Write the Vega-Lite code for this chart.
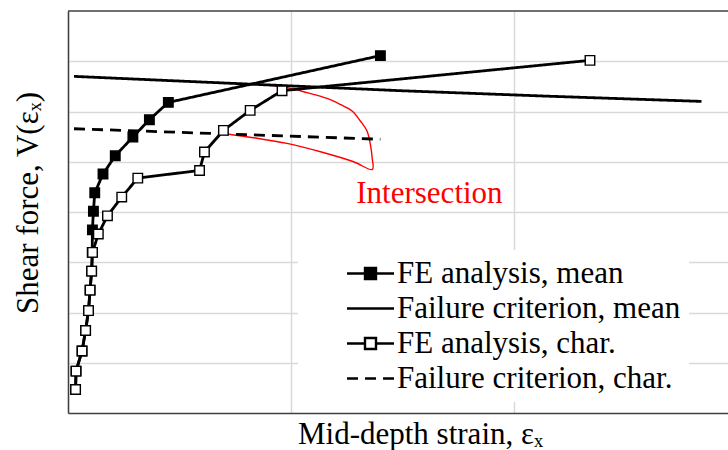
{
  "$schema": "https://vega.github.io/schema/vega-lite/v6.json",
  "width": 660,
  "height": 402,
  "autosize": {"type": "none"},
  "padding": {"left": 68, "top": 11, "right": 0, "bottom": 37},
  "background": "white",
  "config": {
    "font": "Liberation Serif",
    "view": {"stroke": null},
    "axis": {
      "labels": false,
      "ticks": false,
      "domainColor": "#404040",
      "domainWidth": 1.5,
      "gridColor": "#d9d9d9",
      "gridWidth": 1.5,
      "titleFont": "Liberation Serif",
      "titleFontSize": 31,
      "titleFontWeight": "normal",
      "titleColor": "black"
    },
    "legend": {
      "labelFont": "Liberation Serif",
      "labelFontSize": 31,
      "labelColor": "black",
      "labelLimit": 500
    }
  },
  "datasets": {
    "curves": [
      {"series": "FE analysis, mean", "i": 1, "x": 0.034, "y": 0.468},
      {"series": "FE analysis, mean", "i": 2, "x": 0.036, "y": 0.833},
      {"series": "FE analysis, mean", "i": 3, "x": 0.063, "y": 1.235},
      {"series": "FE analysis, mean", "i": 4, "x": 0.079, "y": 1.643},
      {"series": "FE analysis, mean", "i": 5, "x": 0.092, "y": 2.038},
      {"series": "FE analysis, mean", "i": 6, "x": 0.099, "y": 2.446},
      {"series": "FE analysis, mean", "i": 7, "x": 0.106, "y": 2.823},
      {"series": "FE analysis, mean", "i": 8, "x": 0.1085, "y": 3.197},
      {"series": "FE analysis, mean", "i": 9, "x": 0.1095, "y": 3.645},
      {"series": "FE analysis, mean", "i": 10, "x": 0.114, "y": 4.014},
      {"series": "FE analysis, mean", "i": 11, "x": 0.120, "y": 4.382},
      {"series": "FE analysis, mean", "i": 12, "x": 0.157, "y": 4.755},
      {"series": "FE analysis, mean", "i": 13, "x": 0.212, "y": 5.120},
      {"series": "FE analysis, mean", "i": 14, "x": 0.291, "y": 5.492},
      {"series": "FE analysis, mean", "i": 15, "x": 0.365, "y": 5.837},
      {"series": "FE analysis, mean", "i": 16, "x": 0.450, "y": 6.181},
      {"series": "FE analysis, mean", "i": 17, "x": 1.401, "y": 7.112},
      {"series": "Failure criterion, mean", "i": 1, "x": 0.027, "y": 6.699},
      {"series": "Failure criterion, mean", "i": 2, "x": 0.593, "y": 6.588},
      {"series": "Failure criterion, mean", "i": 3, "x": 1.491, "y": 6.414},
      {"series": "Failure criterion, mean", "i": 4, "x": 2.151, "y": 6.305},
      {"series": "Failure criterion, mean", "i": 5, "x": 2.841, "y": 6.201},
      {"series": "FE analysis, char.", "i": 1, "x": 0.034, "y": 0.468},
      {"series": "FE analysis, char.", "i": 2, "x": 0.036, "y": 0.833},
      {"series": "FE analysis, char.", "i": 3, "x": 0.063, "y": 1.235},
      {"series": "FE analysis, char.", "i": 4, "x": 0.079, "y": 1.643},
      {"series": "FE analysis, char.", "i": 5, "x": 0.092, "y": 2.038},
      {"series": "FE analysis, char.", "i": 6, "x": 0.099, "y": 2.446},
      {"series": "FE analysis, char.", "i": 7, "x": 0.106, "y": 2.823},
      {"series": "FE analysis, char.", "i": 8, "x": 0.110, "y": 3.197},
      {"series": "FE analysis, char.", "i": 9, "x": 0.136, "y": 3.562},
      {"series": "FE analysis, char.", "i": 10, "x": 0.177, "y": 3.924},
      {"series": "FE analysis, char.", "i": 11, "x": 0.241, "y": 4.297},
      {"series": "FE analysis, char.", "i": 12, "x": 0.313, "y": 4.675},
      {"series": "FE analysis, char.", "i": 13, "x": 0.590, "y": 4.827},
      {"series": "FE analysis, char.", "i": 14, "x": 0.612, "y": 5.193},
      {"series": "FE analysis, char.", "i": 15, "x": 0.697, "y": 5.624},
      {"series": "FE analysis, char.", "i": 16, "x": 0.817, "y": 6.022},
      {"series": "FE analysis, char.", "i": 17, "x": 0.960, "y": 6.414},
      {"series": "FE analysis, char.", "i": 18, "x": 2.341, "y": 7.018},
      {"series": "Failure criterion, char.", "i": 1, "x": 0.027, "y": 5.657},
      {"series": "Failure criterion, char.", "i": 2, "x": 1.401, "y": 5.448}
    ],
    "red": [
      {"i": 1, "x": 0.862, "y": 6.540},
      {"i": 2, "x": 0.982, "y": 6.474},
      {"i": 3, "x": 1.072, "y": 6.375},
      {"i": 4, "x": 1.162, "y": 6.261},
      {"i": 5, "x": 1.221, "y": 6.141},
      {"i": 6, "x": 1.274, "y": 6.010},
      {"i": 7, "x": 1.311, "y": 5.811},
      {"i": 8, "x": 1.341, "y": 5.612},
      {"i": 9, "x": 1.356, "y": 5.345},
      {"i": 10, "x": 1.364, "y": 5.080},
      {"i": 11, "x": 1.365, "y": 4.847},
      {"i": 12, "x": 1.281, "y": 5.000},
      {"i": 13, "x": 1.132, "y": 5.199},
      {"i": 14, "x": 0.982, "y": 5.365},
      {"i": 15, "x": 0.832, "y": 5.478},
      {"i": 16, "x": 0.705, "y": 5.558}
    ],
    "label": [
      {"x": 1.621, "y": 4.183, "text": "Intersection", "top": 8}
    ]
  },
  "layer": [
    {
      "data": {"name": "red"},
      "mark": {"type": "line", "color": "#ff0000", "strokeWidth": 1.4, "interpolate": "catmull-rom"},
      "encoding": {
        "x": {
          "field": "x", "type": "quantitative",
          "scale": {"domain": [0, 2.96], "nice": false, "zero": false},
          "axis": {
            "title": "Mid-depth strain, εₓ",
            "values": [0, 1, 2],
            "grid": true,
            "titleX": 352,
            "titleY": 30,
            "titleBaseline": "alphabetic",
            "titleAlign": "center"
          }
        },
        "y": {
          "field": "y", "type": "quantitative",
          "scale": {"domain": [0, 8], "nice": false, "zero": false},
          "axis": {
            "title": "Shear force, V(εₓ)",
            "values": [1, 2, 3, 4, 5, 6, 7],
            "grid": true,
            "titleX": -31,
            "titleY": 191.5,
            "titleAngle": 270,
            "titleBaseline": "alphabetic",
            "titleAlign": "center"
          }
        },
        "order": {"field": "i", "type": "quantitative"}
      }
    },
    {
      "data": {"name": "label"},
      "mark": {"type": "rule", "color": "#404040", "strokeWidth": 1.5},
      "encoding": {
        "y": {"field": "top", "type": "quantitative"}
      }
    },
    {
      "data": {"name": "curves"},
      "mark": {"type": "line", "strokeWidth": 2.8, "interpolate": "linear"},
      "encoding": {
        "x": {"field": "x", "type": "quantitative"},
        "y": {"field": "y", "type": "quantitative"},
        "order": {"field": "i", "type": "quantitative"},
        "color": {
          "field": "series", "type": "nominal",
          "scale": {
            "domain": ["FE analysis, mean", "Failure criterion, mean", "FE analysis, char.", "Failure criterion, char."],
            "range": ["black", "black", "black", "black"]
          },
          "legend": {
            "title": null,
            "orient": "none",
            "legendX": 230,
            "legendY": 239,
            "padding": 8,
            "fillColor": "white",
            "symbolSize": 7396,
            "symbolStrokeWidth": 2.4,
            "symbolStrokeColor": "black",
            "labelOffset": 2,
            "rowPadding": 3,
            "clipHeight": 31,
            "encoding": {
              "symbols": {
                "shape": {"value": {"expr": "indexof(datum.value, 'FE analysis') === 0 ? 'M-0.081,0H0.337M0.593,0H1.012M0.337,-0.128H0.593V0.128H0.337Z' : 'M-0.081,0H1.012'"}},
                "fill": {"value": {"expr": "datum.value === 'FE analysis, mean' ? 'black' : (datum.value === 'FE analysis, char.' ? 'white' : 'transparent')"}},
                "stroke": {"value": "black"},
                "strokeWidth": {"value": 2.4},
                "opacity": {"value": 1}
              }
            }
          }
        },
        "strokeDash": {
          "field": "series", "type": "nominal",
          "scale": {
            "domain": ["FE analysis, mean", "Failure criterion, mean", "FE analysis, char.", "Failure criterion, char."],
            "range": [[1, 0], [1, 0], [1, 0], [11, 7]]
          },
          "legend": {
            "title": null,
            "orient": "none",
            "legendX": 230,
            "legendY": 239
          }
        }
      }
    },
    {
      "data": {"name": "curves"},
      "transform": [{"filter": "indexof(datum.series, 'FE analysis') === 0"}],
      "mark": {"type": "point", "shape": "square", "size": 90, "stroke": "black", "strokeWidth": 1.4, "opacity": 1},
      "encoding": {
        "x": {"field": "x", "type": "quantitative"},
        "y": {"field": "y", "type": "quantitative"},
        "fill": {
          "condition": {"test": "datum.series === 'FE analysis, mean'", "value": "black"},
          "value": "white"
        }
      }
    },
    {
      "data": {"name": "label"},
      "mark": {"type": "text", "color": "#ff0000", "font": "Liberation Serif", "fontSize": 31, "align": "center", "baseline": "alphabetic"},
      "encoding": {
        "x": {"field": "x", "type": "quantitative"},
        "y": {"field": "y", "type": "quantitative"},
        "text": {"field": "text"}
      }
    }
  ]
}
